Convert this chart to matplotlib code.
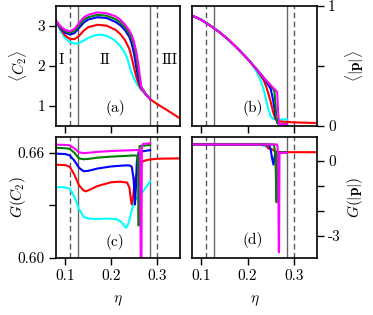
import matplotlib
matplotlib.use("Agg")
import matplotlib.pyplot as plt

plt.rcParams['font.family'] = ['cmr10', 'DejaVu Serif']
plt.rcParams['mathtext.fontset'] = 'cm'
plt.rcParams['axes.unicode_minus'] = False
plt.rcParams['axes.formatter.use_mathtext'] = True

colors = {'cyan': 'cyan', 'red': 'red', 'blue': 'blue', 'green': 'green', 'magenta': 'magenta'}
order = ['cyan', 'red', 'blue', 'green', 'magenta']

# ---------------- panel (a): <C2> ----------------
a_eta = {
    'cyan':    [0.08, 0.09, 0.10, 0.11, 0.12, 0.13, 0.14, 0.15, 0.16, 0.17, 0.18, 0.19, 0.20, 0.21, 0.22, 0.23, 0.235, 0.24, 0.245, 0.25, 0.255, 0.26, 0.265, 0.275, 0.285],
    'red':     [0.08, 0.09, 0.10, 0.11, 0.12, 0.13, 0.14, 0.15, 0.17, 0.19, 0.21, 0.22, 0.23, 0.24, 0.245, 0.25, 0.255, 0.26, 0.265, 0.275, 0.285, 0.30, 0.32, 0.335, 0.35],
    'blue':    [0.08, 0.09, 0.10, 0.11, 0.12, 0.13, 0.14, 0.15, 0.17, 0.19, 0.21, 0.22, 0.23, 0.24, 0.245, 0.25, 0.255, 0.26, 0.265, 0.275, 0.285],
    'green':   [0.08, 0.09, 0.10, 0.11, 0.12, 0.13, 0.14, 0.15, 0.17, 0.19, 0.21, 0.22, 0.23, 0.24, 0.245, 0.25, 0.255, 0.26, 0.265, 0.275, 0.285],
    'magenta': [0.08, 0.09, 0.10, 0.11, 0.12, 0.13, 0.14, 0.15, 0.17, 0.19, 0.21, 0.22, 0.23, 0.24, 0.245, 0.25, 0.255, 0.26, 0.263, 0.266, 0.275, 0.285],
}
a_val = {
    'cyan':    [3.12, 2.87, 2.70, 2.60, 2.56, 2.57, 2.63, 2.70, 2.75, 2.78, 2.78, 2.75, 2.70, 2.62, 2.50, 2.33, 2.20, 2.00, 1.82, 1.68, 1.57, 1.48, 1.41, 1.30, 1.17],
    'red':     [3.13, 2.92, 2.76, 2.68, 2.67, 2.75, 2.88, 2.97, 3.03, 3.01, 2.90, 2.80, 2.65, 2.42, 2.20, 1.95, 1.72, 1.55, 1.43, 1.30, 1.17, 1.05, 0.91, 0.80, 0.69],
    'blue':    [3.13, 2.95, 2.83, 2.79, 2.82, 2.95, 3.08, 3.16, 3.22, 3.20, 3.10, 3.02, 2.90, 2.72, 2.55, 2.30, 1.95, 1.66, 1.47, 1.30, 1.17],
    'green':   [3.13, 2.97, 2.87, 2.83, 2.87, 3.01, 3.15, 3.22, 3.28, 3.26, 3.17, 3.09, 2.97, 2.80, 2.68, 2.50, 2.20, 1.80, 1.50, 1.30, 1.17],
    'magenta': [3.13, 2.99, 2.90, 2.87, 2.92, 3.07, 3.21, 3.28, 3.34, 3.32, 3.24, 3.16, 3.04, 2.88, 2.77, 2.60, 2.35, 2.00, 1.70, 1.46, 1.30, 1.17],
}

# ---------------- panel (b): <|p|> ----------------
b_eta = {
    'cyan':    [0.08, 0.10, 0.12, 0.14, 0.16, 0.18, 0.20, 0.21, 0.215, 0.22, 0.225, 0.23, 0.235, 0.24, 0.245, 0.25, 0.255, 0.265, 0.285],
    'red':     [0.08, 0.10, 0.12, 0.14, 0.16, 0.18, 0.20, 0.21, 0.22, 0.23, 0.235, 0.24, 0.245, 0.25, 0.255, 0.26, 0.265, 0.28, 0.30, 0.35],
    'blue':    [0.08, 0.10, 0.12, 0.14, 0.16, 0.18, 0.20, 0.21, 0.22, 0.23, 0.24, 0.245, 0.25, 0.255, 0.26, 0.264, 0.27, 0.285],
    'green':   [0.08, 0.10, 0.12, 0.14, 0.16, 0.18, 0.20, 0.21, 0.22, 0.23, 0.24, 0.25, 0.255, 0.258, 0.26, 0.262, 0.265, 0.285],
    'magenta': [0.08, 0.10, 0.12, 0.14, 0.16, 0.18, 0.20, 0.21, 0.22, 0.23, 0.24, 0.25, 0.26, 0.264, 0.266, 0.268, 0.285],
}
b_val = {
    'cyan':    [0.92, 0.885, 0.835, 0.78, 0.715, 0.64, 0.56, 0.515, 0.48, 0.45, 0.41, 0.36, 0.30, 0.22, 0.14, 0.08, 0.06, 0.055, 0.055],
    'red':     [0.92, 0.885, 0.835, 0.78, 0.715, 0.64, 0.56, 0.515, 0.47, 0.41, 0.38, 0.33, 0.27, 0.20, 0.12, 0.06, 0.04, 0.035, 0.03, 0.025],
    'blue':    [0.92, 0.885, 0.835, 0.78, 0.715, 0.64, 0.56, 0.515, 0.47, 0.425, 0.37, 0.34, 0.31, 0.22, 0.10, 0.03, 0.015, 0.015],
    'green':   [0.92, 0.885, 0.835, 0.78, 0.715, 0.64, 0.56, 0.515, 0.47, 0.425, 0.38, 0.335, 0.31, 0.29, 0.20, 0.08, 0.02, 0.015],
    'magenta': [0.92, 0.885, 0.835, 0.78, 0.715, 0.64, 0.56, 0.515, 0.47, 0.425, 0.38, 0.34, 0.30, 0.285, 0.12, 0.015, 0.015],
}

# ---------------- panel (c): G(C2) ----------------
c_eta = {
    'cyan':    [0.08, 0.10, 0.11, 0.12, 0.13, 0.14, 0.15, 0.17, 0.19, 0.21, 0.22, 0.23, 0.233, 0.238, 0.245, 0.25, 0.255, 0.265, 0.275, 0.285],
    'red':     [0.08, 0.10, 0.11, 0.12, 0.13, 0.14, 0.145, 0.15, 0.17, 0.20, 0.22, 0.235, 0.24, 0.243, 0.245, 0.248, 0.252, 0.258, 0.263, 0.27, 0.28, 0.30, 0.35],
    'blue':    [0.08, 0.10, 0.11, 0.12, 0.13, 0.14, 0.15, 0.17, 0.20, 0.23, 0.24, 0.245, 0.249, 0.252, 0.254, 0.256, 0.26, 0.285],
    'green':   [0.08, 0.10, 0.11, 0.12, 0.13, 0.14, 0.15, 0.17, 0.20, 0.23, 0.25, 0.257, 0.259, 0.2595, 0.2605, 0.261, 0.262, 0.285],
    'magenta': [0.08, 0.10, 0.11, 0.12, 0.13, 0.14, 0.15, 0.17, 0.20, 0.23, 0.25, 0.262, 0.2635, 0.2645, 0.266, 0.267, 0.27, 0.285],
}
c_val = {
    'cyan':    [0.6404, 0.6403, 0.6395, 0.6350, 0.6280, 0.6235, 0.6225, 0.6222, 0.6225, 0.6222, 0.6210, 0.6180, 0.6172, 0.6200, 0.6270, 0.6320, 0.6340, 0.6365, 0.6400, 0.6438],
    'red':     [0.6532, 0.6530, 0.6520, 0.6475, 0.6415, 0.6385, 0.6380, 0.6385, 0.6410, 0.6432, 0.6435, 0.6430, 0.6400, 0.6330, 0.6306, 0.6355, 0.6450, 0.6500, 0.6535, 0.6552, 0.6560, 0.6566, 0.6568],
    'blue':    [0.6595, 0.6593, 0.6585, 0.6555, 0.6515, 0.6495, 0.6497, 0.6510, 0.6522, 0.6528, 0.6528, 0.6520, 0.6450, 0.6305, 0.6400, 0.6550, 0.6605, 0.6615],
    'green':   [0.6628, 0.6626, 0.6622, 0.6600, 0.6568, 0.6563, 0.6565, 0.6572, 0.6578, 0.6582, 0.6585, 0.6583, 0.6500, 0.6186, 0.6186, 0.6500, 0.6638, 0.6645],
    'magenta': [0.6646, 0.6645, 0.6642, 0.6625, 0.6603, 0.6598, 0.6600, 0.6605, 0.6610, 0.6613, 0.6615, 0.6616, 0.6550, 0.5900, 0.5900, 0.6640, 0.6651, 0.6654],
}

# ---------------- panel (d): G(|p|) ----------------
d_eta = {
    'cyan':    [0.08, 0.22, 0.23, 0.24, 0.25, 0.255, 0.26, 0.265, 0.285],
    'red':     [0.08, 0.235, 0.24, 0.245, 0.25, 0.255, 0.26, 0.265, 0.35],
    'blue':    [0.08, 0.246, 0.25, 0.253, 0.256, 0.258, 0.26, 0.285],
    'green':   [0.08, 0.257, 0.26, 0.2625, 0.263, 0.264, 0.285],
    'magenta': [0.08, 0.264, 0.266, 0.2675, 0.268, 0.269, 0.285],
}
d_val = {
    'cyan':    [0.66, 0.66, 0.63, 0.58, 0.50, 0.44, 0.38, 0.35, 0.34],
    'red':     [0.66, 0.66, 0.62, 0.50, 0.48, 0.44, 0.38, 0.35, 0.35],
    'blue':    [0.66, 0.66, 0.45, 0.10, -0.15, 0.10, 0.33, 0.33],
    'green':   [0.66, 0.66, 0.30, -1.66, -1.66, 0.33, 0.33],
    'magenta': [0.66, 0.66, 0.30, -3.67, -3.67, 0.32, 0.32],
}

vlines_solid = [0.127, 0.285]
vlines_dashed = [0.11, 0.30]

W, H = 373, 315
fig = plt.figure(figsize=(W / 100, H / 100), dpi=100)

def rect(l, r, t, b):
    return [l / W, 1 - b / H, (r - l) / W, (b - t) / H]

axa = fig.add_axes(rect(56, 180, 6, 126))
axb = fig.add_axes(rect(192, 317, 6, 126))
axc = fig.add_axes(rect(56, 180, 137, 258))
axd = fig.add_axes(rect(192, 317, 137, 258))

fs = 11
for ax, (eta, val) in zip([axa, axb, axc, axd], [(a_eta, a_val), (b_eta, b_val), (c_eta, c_val), (d_eta, d_val)]):
    for x in vlines_solid:
        ax.axvline(x, color='0.4', lw=1.0, zorder=1)
    for x in vlines_dashed:
        ax.axvline(x, color='0.35', lw=1.0, ls=(0, (4, 2.5)), zorder=1)
    for k in order:
        ax.plot(eta[k], val[k], color=colors[k], lw=1.5, zorder=2)
    ax.set_xlim(0.08, 0.35)
    ax.set_xticks([0.1, 0.2, 0.3])
    for s in ax.spines.values():
        s.set_linewidth(1.2)
    ax.tick_params(direction='out', length=5, width=1.0, labelsize=fs, pad=3)

axa.set_xticklabels([])
axb.set_xticklabels([])
axc.set_xticklabels(['0.1', '0.2', '0.3'])
axd.set_xticklabels(['0.1', '0.2', '0.3'])

axa.set_ylim(0.5, 3.5)
axa.set_yticks([1, 2, 3])
axa.set_yticklabels(['1', '2', '3'])
axa.set_ylabel(r'$\langle C_2\rangle$', fontsize=fs)

axb.set_ylim(0, 1)
axb.set_yticks([0, 0.5, 1])
axb.set_yticklabels(['0', '', '1'])
axb.yaxis.tick_right()
axb.yaxis.set_label_position('right')
axb.set_ylabel(r'$\langle|\mathbf{p}|\rangle$', fontsize=fs)

axc.set_ylim(0.60, 0.669)
axc.set_yticks([0.60, 0.63, 0.66])
axc.set_yticklabels(['0.60', '', '0.66'])
axc.set_ylabel(r'$G(C_2)$', fontsize=fs)
axc.set_xlabel(r'$\eta$', fontsize=fs, labelpad=8)

axd.set_ylim(-3.9, 0.96)
axd.set_yticks([0, -1, -2, -3])
axd.set_yticklabels(['0', '', '', '-3'])
axd.yaxis.tick_right()
axd.yaxis.set_label_position('right')
axd.set_ylabel(r'$G(|\mathbf{p}|)$', fontsize=fs)
axd.set_xlabel(r'$\eta$', fontsize=fs, labelpad=8)

# place y labels at fixed pixel columns (label centres)
for ax, xpix, l, r in [(axa, 18, 56, 180), (axc, 18, 56, 180), (axb, 355, 192, 317), (axd, 355, 192, 317)]:
    ax.yaxis.label.set_va('center')
    ax.yaxis.label.set_ha('center')
    ax.yaxis.set_label_coords((xpix - l) / (r - l), 0.5)

def ftext(x, y, s):
    fig.text(x / W, 1 - y / H, s, fontsize=fs, ha='center', va='center')

ftext(61.5, 60, 'I')
ftext(105, 60, 'II')
ftext(170, 60, 'III')
ftext(115, 108, '(a)')
ftext(252.5, 108, '(b)')
ftext(115, 242, '(c)')
ftext(252.5, 240, '(d)')

fig.savefig('out.png', dpi=100)
